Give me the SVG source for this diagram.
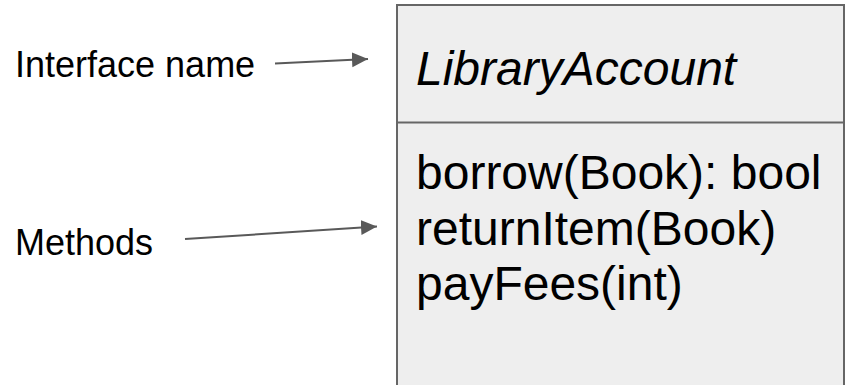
<svg xmlns="http://www.w3.org/2000/svg" width="845" height="385" viewBox="0 0 845 385">
  <style>
    .lbl { font-family: "Liberation Sans", Arial, sans-serif; font-size: 36px; fill: #000; }
    .box { fill: #eeeeee; stroke: #666666; stroke-width: 2; }
    .txt { font-family: "Liberation Sans", Arial, sans-serif; font-size: 48px; fill: #000; }
    .conn { stroke: #595959; stroke-width: 2; fill: none; marker-end: url(#arrow); }
  </style>
  <defs>
    <marker id="arrow" markerUnits="userSpaceOnUse" markerWidth="18" markerHeight="16" refX="16" refY="7.5" orient="auto">
      <path d="M0,0 L16,7.5 L0,15 Z" fill="#595959"/>
    </marker>
  </defs>
  <rect width="845" height="385" fill="#ffffff"/>
  <g id="interface-box">
    <rect class="box" x="397" y="5" width="447" height="390"/>
    <line x1="397" y1="122.5" x2="844" y2="122.5" stroke="#666666" stroke-width="2"/>
    <text class="txt" x="416" y="85" font-style="italic">LibraryAccount</text>
    <text class="txt" x="416" y="189">borrow(Book): bool</text>
    <text class="txt" x="416" y="245">returnItem(Book)</text>
    <text class="txt" x="416" y="300">payFees(int)</text>
  </g>
  <g id="label-interface-name">
    <text class="lbl" x="15" y="77">Interface name</text>
  </g>
  <g id="label-methods">
    <text class="lbl" x="15" y="255">Methods</text>
  </g>
  <g id="connectors">
    <line class="conn" x1="275" y1="63.5" x2="368" y2="59"/>
    <line class="conn" x1="185" y1="239" x2="377" y2="226.5"/>
  </g>
</svg>
